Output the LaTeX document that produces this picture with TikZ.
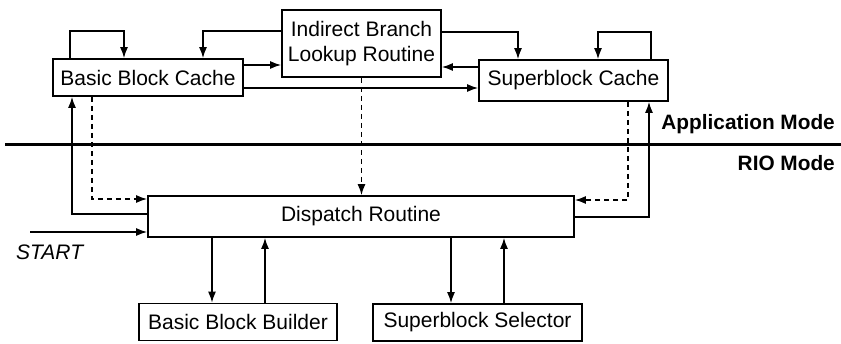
\documentclass[tikz,border=0pt]{standalone}
\usepackage{fontspec}
\setmainfont{Liberation Sans}
\usetikzlibrary{arrows.meta}
\begin{document}
\begin{tikzpicture}[x=1pt,y=-1pt,
  box/.style={draw,line width=1.8pt,inner sep=0pt,align=center,
    font=\fontsize{21}{25}\selectfont},
  conn/.style={line width=1.3pt,-{Latex[length=11pt,width=8pt]}},
  dconn/.style={conn,dash pattern=on 5pt off 4pt},
  modelbl/.style={font=\fontsize{20.8}{24}\selectfont\bfseries,anchor=east,inner sep=0pt}]
\useasboundingbox (0,0) rectangle (841,343);
\fill[white] (0,0) rectangle (841,343);
% nodes
\node[box,minimum width=190pt,minimum height=37pt] (bbc) at (148,77.5) {Basic Block Cache};
\node[box,minimum width=159pt,minimum height=67pt] (ibl) at (361.5,43.5) {Indirect Branch\\Lookup Routine};
\node[box,minimum width=189pt,minimum height=41pt] (sbc) at (573.5,80.5) {Superblock Cache};
\node[box,minimum width=426pt,minimum height=41pt] (disp) at (361,216.5) {Dispatch Routine};
\node[box,minimum width=198pt,minimum height=37pt] (bbb) at (238,322) {Basic Block Builder};
\node[box,minimum width=209pt,minimum height=37pt] (sbs) at (477.5,322.5) {Superblock Selector};
% mode labels and divider
\coordinate (divl) at (5,144);
\coordinate (divr) at (841,144);
\draw[line width=3pt] (divl) -- (divr);
\node[modelbl] (appm) at (835,124) {Application Mode};
\node[modelbl] (riom) at (835,163) {RIO Mode};
% helper coordinates
\coordinate (a1) at (70,31);
\coordinate (a2) at (124,31);
\coordinate (b1) at (203,31);
\coordinate (c1) at (0,65);
\coordinate (d1) at (0,88);
\coordinate (e1) at (518,32);
\coordinate (f1) at (0,67);
\coordinate (g1) at (651,32);
\coordinate (g2) at (598,32);
\coordinate (h1) at (92,199);
\coordinate (i1) at (72,214);
\coordinate (j1) at (30,232);
\coordinate (k1) at (628,200);
\coordinate (m1) at (649,217);
\coordinate (n1) at (212,0);
\coordinate (n2) at (265,0);
\coordinate (n3) at (451,0);
\coordinate (n4) at (504,0);
% connectors
\draw[conn] (bbc.north -| a1) -- (a1) -- (a2) -- (bbc.north -| a2);
\draw[conn] (ibl.west |- b1) -- (b1) -- (bbc.north -| b1);
\draw[conn] (bbc.east |- c1) -- (ibl.west |- c1);
\draw[conn] (bbc.east |- d1) -- (sbc.west |- d1);
\draw[conn] (ibl.east |- e1) -- (e1) -- (sbc.north -| e1);
\draw[conn] (sbc.west |- f1) -- (ibl.east |- f1);
\draw[conn] (sbc.north -| g1) -- (g1) -- (g2) -- (sbc.north -| g2);
\draw[dconn] (ibl.south) -- (disp.north -| ibl.south);
\draw[dconn] (bbc.south -| h1) -- (h1) -- (disp.west |- h1);
\draw[conn] (disp.west |- i1) -- (i1) -- (bbc.south -| i1);
\draw[conn] (j1) -- (disp.west |- j1);
\node[font=\fontsize{21}{25}\selectfont\itshape,anchor=west,inner sep=0pt] (start) at (16,252) {START};
\draw[dconn] (sbc.south -| k1) -- (k1) -- (disp.east |- k1);
\draw[conn] (disp.east |- m1) -- (m1) -- (sbc.south -| m1);
\draw[conn] (disp.south -| n1) -- (bbb.north -| n1);
\draw[conn] (bbb.north -| n2) -- (disp.south -| n2);
\draw[conn] (disp.south -| n3) -- (sbs.north -| n3);
\draw[conn] (sbs.north -| n4) -- (disp.south -| n4);
\end{tikzpicture}
\end{document}
